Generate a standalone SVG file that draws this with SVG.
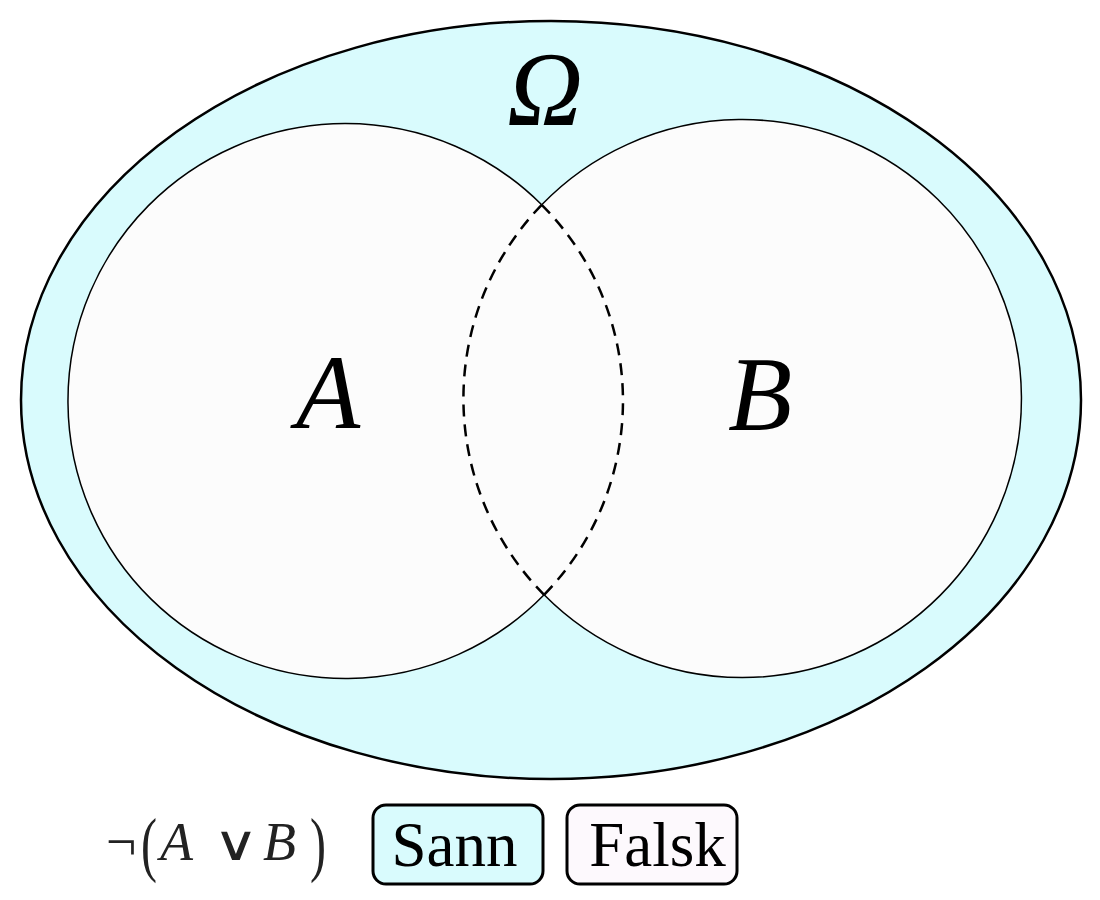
<svg xmlns="http://www.w3.org/2000/svg" width="1100" height="900" viewBox="0 0 1100 900">
<style>
.set{fill:#fcfcfc;stroke:none}
.solid{fill:none;stroke:#000;stroke-width:1.5}
.dash{fill:none;stroke:#000;stroke-width:2.5;stroke-dasharray:12 8}
.big{font-family:"Liberation Serif",serif;font-style:italic;fill:#000}
.btn{stroke:#000;stroke-width:3}
.lbl{font-family:"Liberation Serif",serif;font-size:63px;fill:#000}
.f{font-family:"Liberation Serif",serif;font-size:54px;fill:#222}
.par{font-family:"Liberation Serif",serif;font-size:60px;fill:#222}
</style>
<rect width="1100" height="900" fill="#fff"/>
<g id="omega">
<ellipse cx="551" cy="400" rx="530" ry="379" fill="#d9fbfd" stroke="#000" stroke-width="2.5"/>
<text class="big" x="545" y="125" font-size="105" text-anchor="middle">Ω</text>
</g>
<g id="setA">
<circle class="set" cx="345.5" cy="401" r="277.5"/>
</g>
<g id="setB">
<circle class="set" cx="742.5" cy="398.5" r="279"/>
</g>
<g id="connectors">
<path class="solid" d="M541.7 204.8 A277.5 277.5 0 1 0 544.1 594.8"/>
<path class="solid" d="M541.7 204.8 A279 279 0 1 1 544.1 594.8"/>
<path class="dash" d="M541.7 204.8 A277.5 277.5 0 0 1 544.1 594.8"/>
<path class="dash" d="M541.7 204.8 A279 279 0 0 0 544.1 594.8"/>
</g>
<g id="labels">
<text class="big" x="328" y="428" font-size="105" text-anchor="middle">A</text>
<text class="big" x="760" y="430" font-size="105" text-anchor="middle">B</text>
</g>
<g id="formula">
<text class="f" x="106" y="860">¬</text>
<text class="par" transform="translate(141,868) scale(0.8,1.2)">(</text>
<text class="f" x="160" y="860" font-style="italic">A</text>
<text class="f" transform="translate(236,860) scale(1.15,0.9)" text-anchor="middle" font-family="'DejaVu Serif',serif" font-size="40">∨</text>
<text class="f" x="263" y="860" font-style="italic">B</text>
<text class="par" transform="translate(310,868) scale(0.8,1.2)">)</text>
</g>
<g id="sann">
<rect class="btn" x="373" y="805" width="170" height="79" rx="13" fill="#d9fbfd"/>
<text class="lbl" x="454.5" y="866" text-anchor="middle">Sann</text>
</g>
<g id="falsk">
<rect class="btn" x="567" y="805" width="170" height="79" rx="13" fill="#fdf9fd"/>
<text class="lbl" x="657.5" y="866" text-anchor="middle">Falsk</text>
</g>
</svg>
